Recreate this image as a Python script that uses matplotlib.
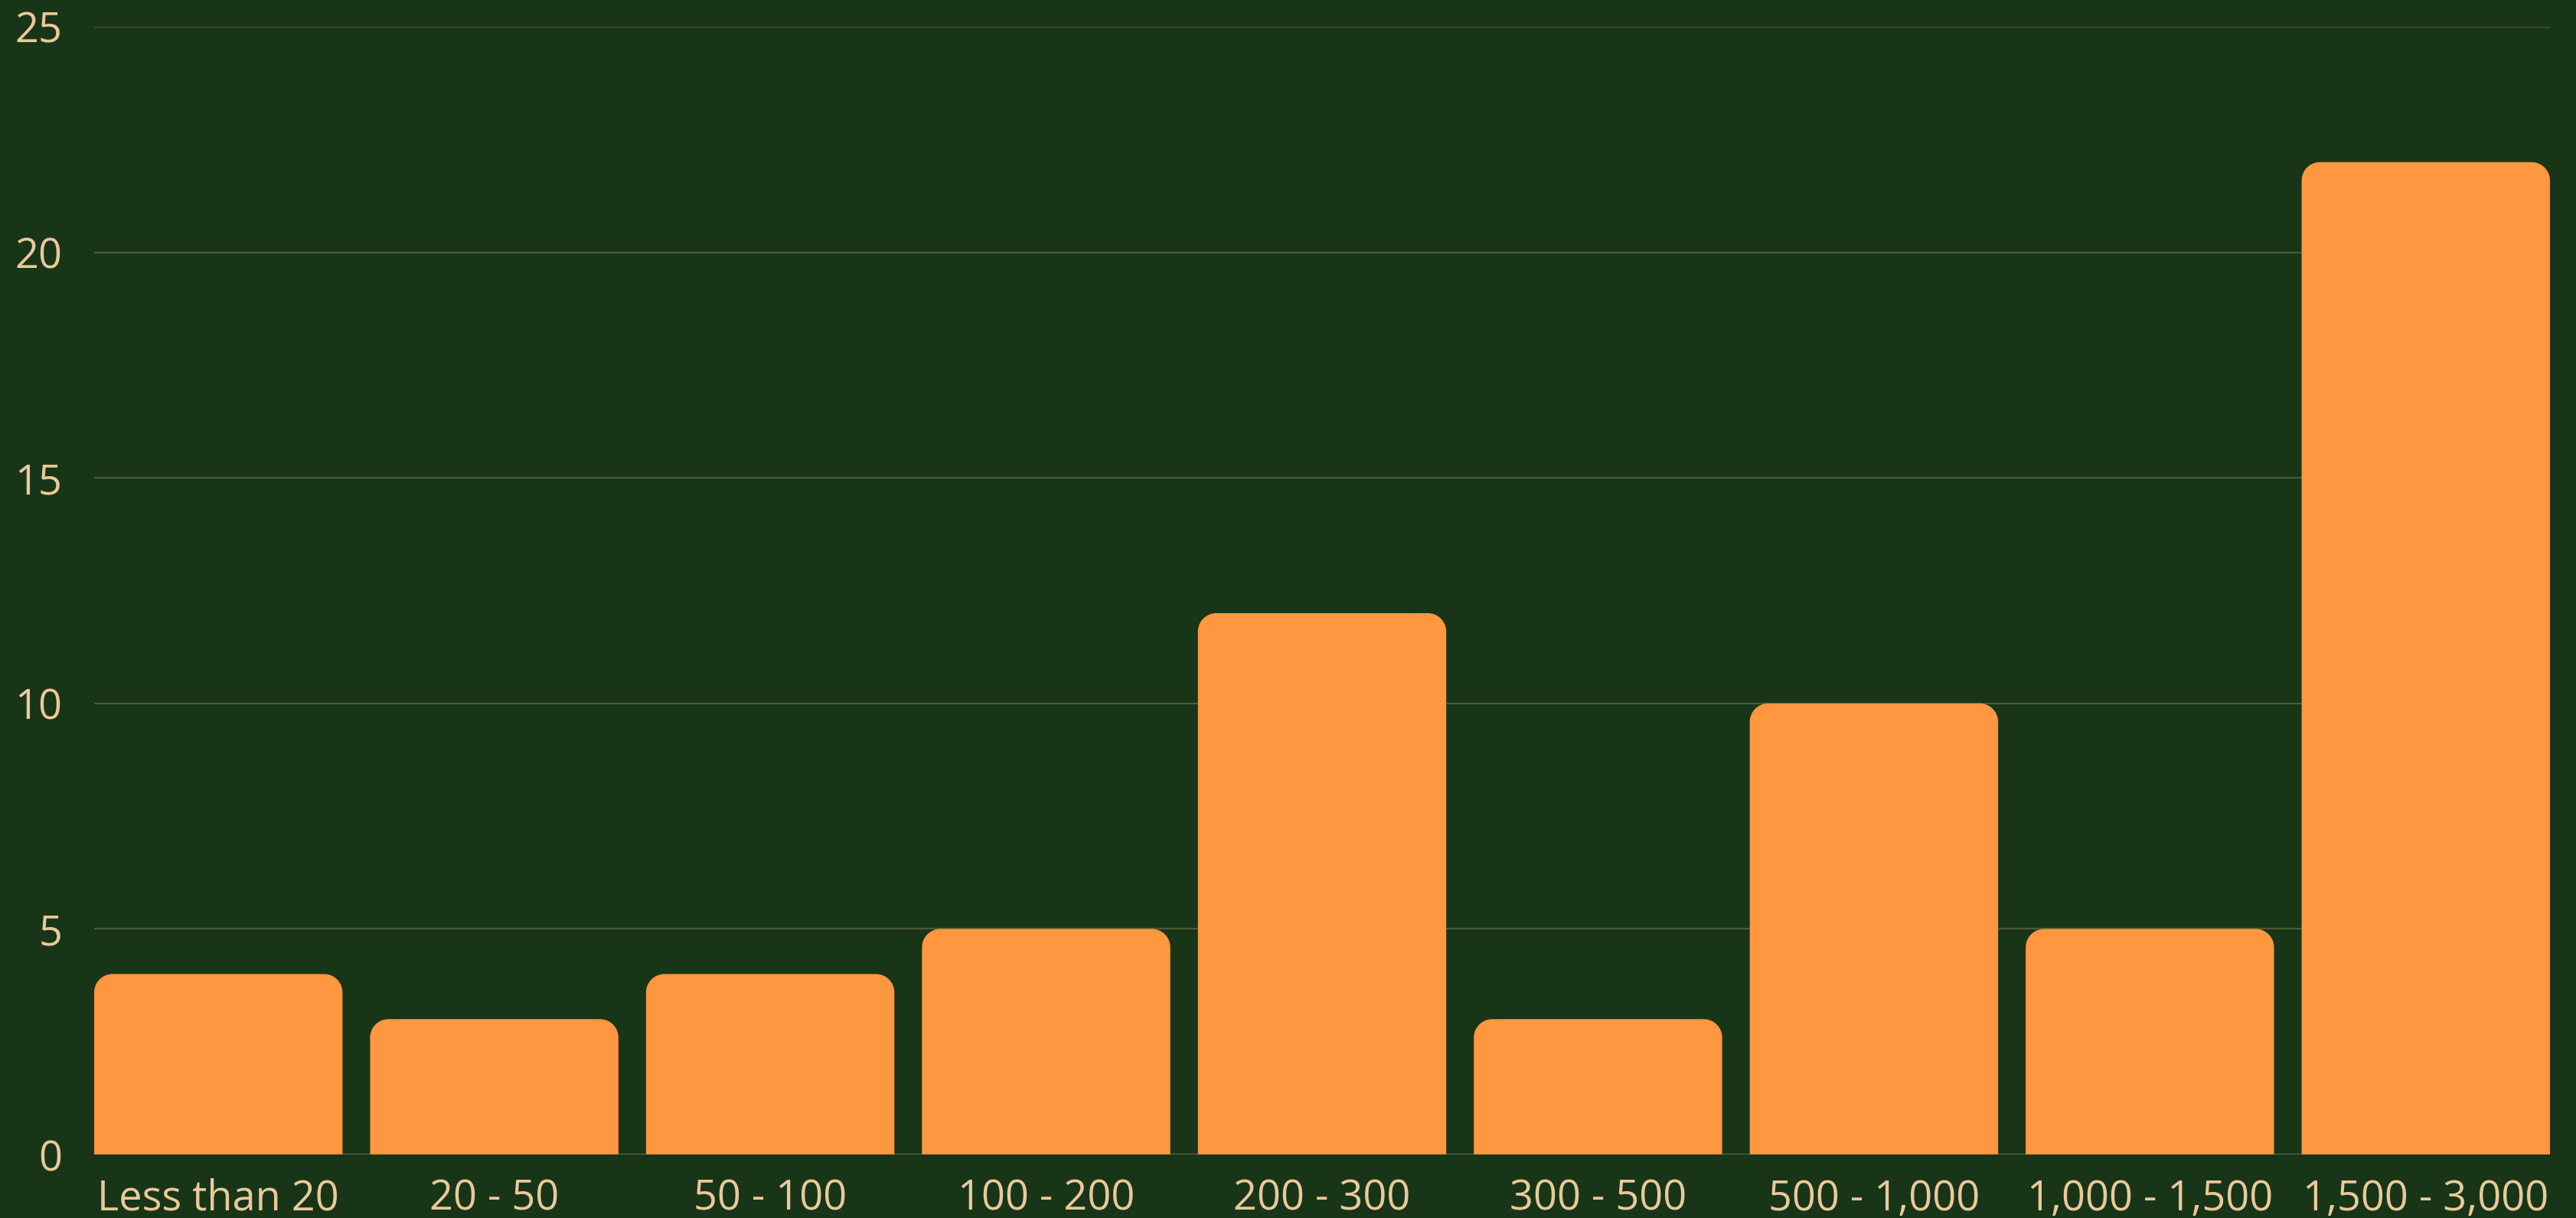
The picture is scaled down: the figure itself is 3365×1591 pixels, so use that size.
"""Bar chart with rounded top corners on a dark green background."""
import numpy as np
import matplotlib
matplotlib.use("Agg")
from matplotlib import pyplot as plt
from matplotlib.path import Path
from matplotlib.patches import PathPatch

categories = ["Less than 20", "20 - 50", "50 - 100", "100 - 200", "200 - 300",
              "300 - 500", "500 - 1,000", "1,000 - 1,500", "1,500 - 3,000"]
counts = [4, 3, 4, 5, 12, 3, 10, 5, 22]
y_ticks = [0, 5, 10, 15, 20, 25]

BG = "#183518"
BAR = "#FF9640"
GRID = "#4b5b35"
BASE = "#6e7853"
TEXT = "#EAC99A"

plt.rcParams['font.family'] = ['Open Sans', 'DejaVu Sans']

W, H, DPI = 3365, 1591, 100
fig = plt.figure(figsize=(W / DPI, H / DPI), dpi=DPI, facecolor=BG)
ax = fig.add_axes([123 / W, (H - 1508) / H, (3331 - 123) / W, (1508 - 35) / H])
ax.set_facecolor(BG)

x = np.arange(len(categories))
bar_w = 0.9
ax.set_xlim(-bar_w / 2, len(categories) - 1 + bar_w / 2)
ax.set_ylim(0, 25)

bars = ax.bar(x, counts, width=bar_w, color=BAR, zorder=3)

# corner radius in pixels -> data units along each axis
r_px = 24
ax_w_px = (3331 - 123)
ax_h_px = (1508 - 35)
rx = r_px * (ax.get_xlim()[1] - ax.get_xlim()[0]) / ax_w_px
ry = r_px * 25 / ax_h_px
k = 0.5523  # bezier circle constant

for b in bars:
    x0, w, h = b.get_x(), b.get_width(), b.get_height()
    x1 = x0 + w
    verts = [
        (x0, 0), (x0, h - ry),
        (x0, h - ry + k * ry), (x0 + rx - k * rx, h), (x0 + rx, h),
        (x1 - rx, h),
        (x1 - rx + k * rx, h), (x1, h - ry + k * ry), (x1, h - ry),
        (x1, 0), (x0, 0),
    ]
    codes = [Path.MOVETO, Path.LINETO,
             Path.CURVE4, Path.CURVE4, Path.CURVE4,
             Path.LINETO,
             Path.CURVE4, Path.CURVE4, Path.CURVE4,
             Path.LINETO, Path.CLOSEPOLY]
    ax.add_patch(PathPatch(Path(verts, codes), facecolor=BAR, edgecolor='none', zorder=3))
    b.set_visible(False)

for yt in y_ticks[1:]:
    ax.axhline(yt, color=GRID, linewidth=1.6, zorder=1)
ax.axhline(0, color=BASE, linewidth=2.0, zorder=2)

for s in ax.spines.values():
    s.set_visible(False)

ax.set_yticks(y_ticks)
ax.set_xticks(x)
ax.set_xticklabels(categories)
ax.tick_params(axis='both', length=0, labelsize=39, labelcolor=TEXT)
ax.tick_params(axis='y', pad=30)
ax.tick_params(axis='x', pad=22)

fig.savefig("out.png", dpi=DPI, facecolor=BG)
